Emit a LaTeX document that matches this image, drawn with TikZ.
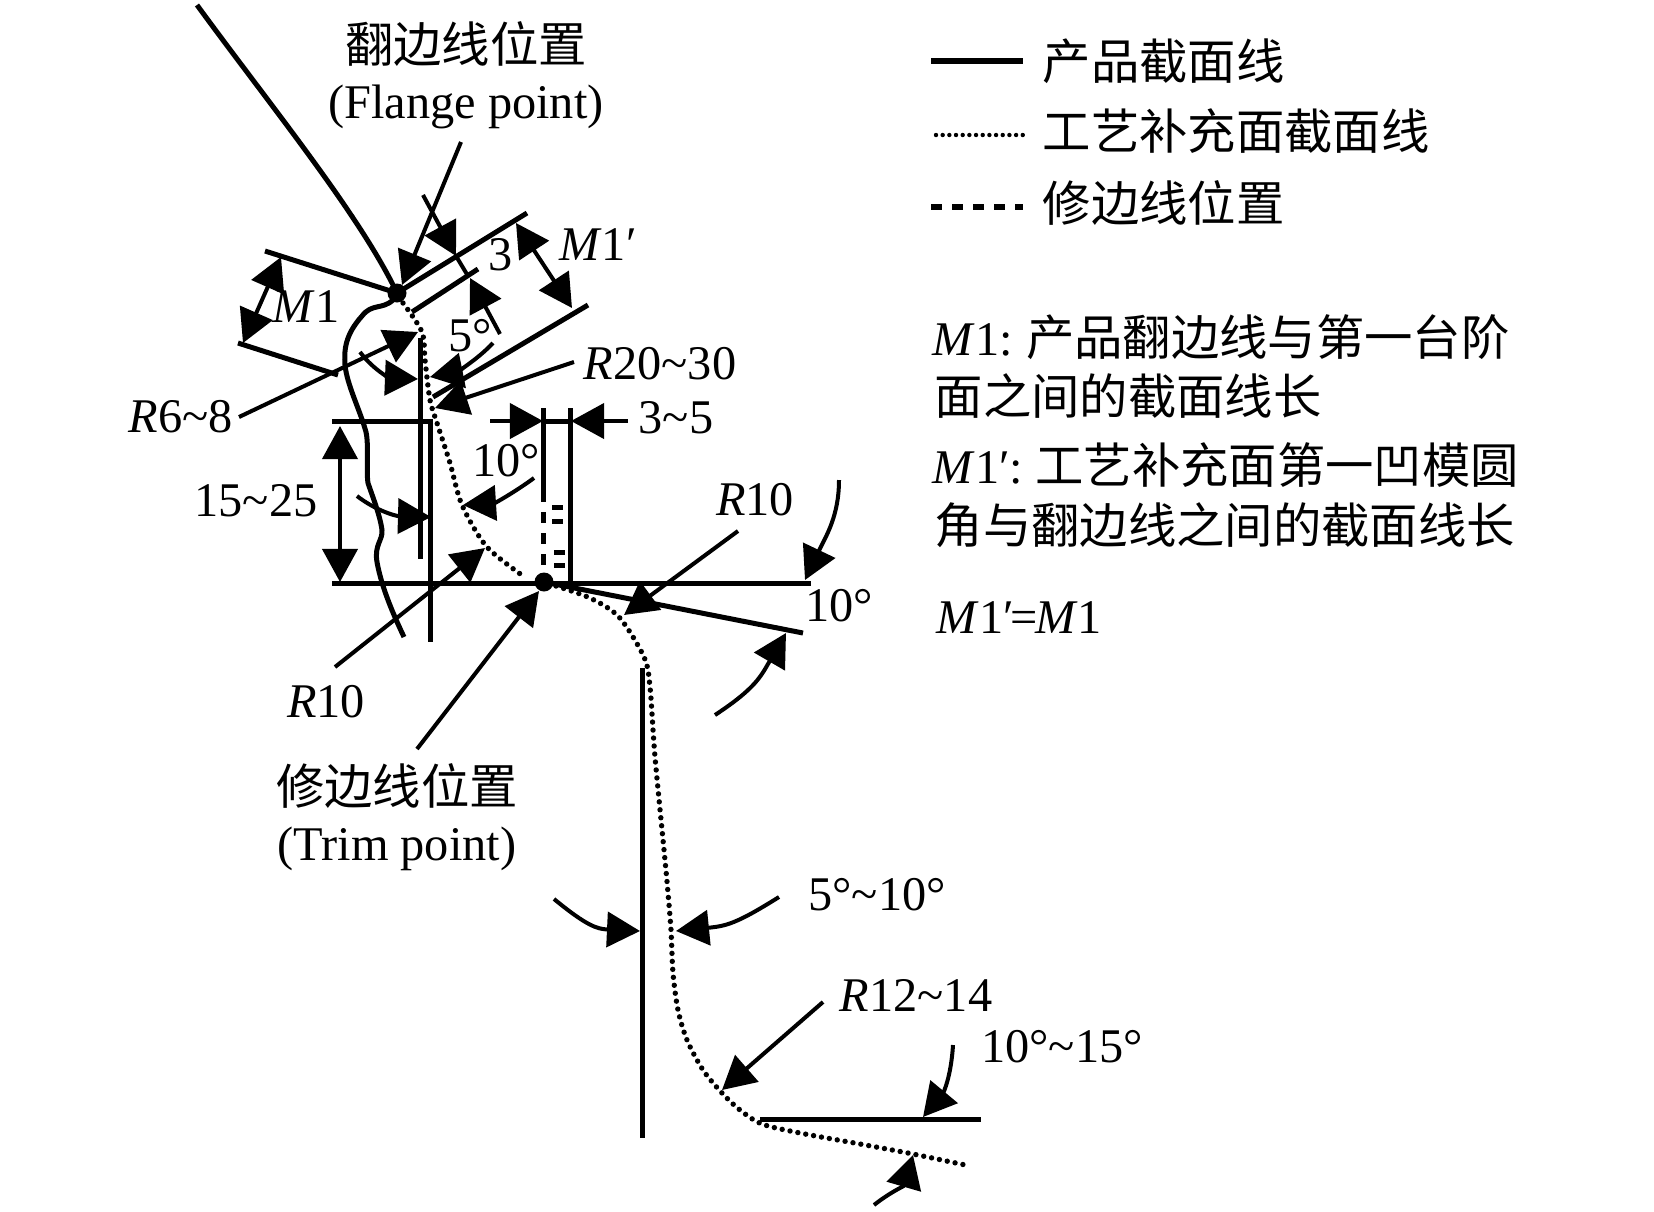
\documentclass[tikz,border=0pt]{standalone}
\usepackage{fontspec}
\setmainfont{Liberation Serif}
\newfontfamily\cjk{Noto Sans CJK SC}
\usetikzlibrary{arrows.meta}
\newcommand{\til}{\textasciitilde}
\newcommand{\itM}{\textit{M}}
\newcommand{\itR}{\textit{R}}
\tikzset{
  solidline/.style={line width=0.05cm},
  thinline/.style={line width=0.04cm},
  dottedline/.style={line width=0.054cm,line cap=round,dash pattern=on 0pt off 0.08cm},
  arrowline/.style={line width=0.04cm,-{Triangle[length=0.33cm,width=0.35cm]}},
  twoarrowline/.style={line width=0.04cm,{Triangle[length=0.33cm,width=0.35cm]}-{Triangle[length=0.33cm,width=0.35cm]}},
  lbl/.style={inner sep=0pt,font=\fontsize{13.75pt}{16pt}\selectfont},
  lblleft/.style={lbl,anchor=west}
}
\begin{document}
\begin{tikzpicture}[x=0.01cm,y=-0.01cm]
\useasboundingbox (0,0) rectangle (1654,1211);
\coordinate (flange) at (397,293);
\coordinate (trim) at (544,582);

% Drawing product section line
\draw [solidline] (197,5) .. controls (270,105) and (360,215) .. (flange);
\draw [solidline] (flange) -- (393,300) .. controls (382,310) and (372,303) .. (362,316) .. controls (345,335) and (344,350) .. (345,365) .. controls (347,385) and (360,410) .. (366,432) .. controls (369,445) and (366,470) .. (368,483) .. controls (372,495) and (380,515) .. (382,530) .. controls (383,540) and (374,545) .. (377,562) .. controls (382,590) and (396,620) .. (404,637);

% Drawing addendum section line
\draw [dottedline] plot [smooth] coordinates {(403,303) (422,332) (425,360) (430,400) (437,423) (450,463) (462,505) (487,547) (526,578)};
\draw [dottedline] plot [smooth] coordinates {(556,586) (590,598) (619,617) (644,657) (650,687) (655,757) (665,860) (668,893) (671,930) (673,973) (678,1010) (687,1040) (703,1070) (722,1093) (740,1110) (762,1124) (800,1133) (860,1144) (913,1154) (970,1166)};
\fill (flange) circle (9.5);
\fill (trim) circle (9.5);

% Drawing flange leader
\draw [arrowline] (461,142) -- (402,285);

% Drawing M1 extension lines
\draw [solidline] (265,251) -- (flange);
\draw [solidline] (238,343) -- (338,375);
\draw [twoarrowline] (281,257) -- (243,343);

% Drawing M1' extension lines
\draw [solidline] (flange) -- (527,213);
\draw [solidline] (412,312) -- (478,269);
\draw [solidline] (433,397) -- (588,305);
\draw [twoarrowline] (516,223) -- (572,308);

% Drawing dimension 3
\draw [arrowline] (423,195) -- (456,256);
\draw [thinline] (456,256) -- (468,276);
\draw [arrowline] (500,334) -- (470,278);

% Drawing dimension 5 degrees
\draw [arrowline] (360,352) .. controls (375,372) and (392,378) .. (418,379);
\draw [arrowline] (493,343) .. controls (475,362) and (455,372) .. (430,377);

% Drawing leaders R6-8 and R20-30
\draw [arrowline] (239,417) -- (418,332);
\draw [arrowline] (574,362) -- (435,408);

% Drawing vertical lines at the step
\draw [solidline] (420,338) -- (420,559);
\draw [solidline] (332,421) -- (430,421) -- (430,642);
\draw [solidline] (332,583) -- (811,583);
\draw [twoarrowline] (340,426) -- (340,582);
\draw [arrowline] (357,496) .. controls (375,510) and (395,516) .. (431,517);

% Drawing dimension 3~5
\draw [solidline] (543,408) -- (543,502);
\draw [solidline] (570,408) -- (570,583);
\draw [solidline] (543,421) -- (570,421);
\draw [solidline] (543,512) -- (543,523);
\draw [solidline] (543,533) -- (543,544);
\draw [solidline] (543,554) -- (543,565);
\draw [solidline] (552,507) -- (563,507);
\draw [solidline] (552,521) -- (563,521);
\draw [solidline] (554,552) -- (565,552);
\draw [solidline] (554,565) -- (565,565);
\draw [arrowline] (490,421) -- (543,421);
\draw [arrowline] (628,421) -- (571,421);

% Drawing dimension 10 degrees and R10
\draw [arrowline] (534,478) .. controls (515,492) and (495,503) .. (463,505);
\draw [arrowline] (335,667) -- (485,548);
\draw [arrowline] (417,749) -- (539,591);

% Drawing run out at trim point
\draw [solidline] (trim) -- (803,633);
\draw [arrowline] (738,531) -- (624,615);
\draw [arrowline] (839,480) .. controls (839,516) and (826,536) .. (805,580);
\draw [arrowline] (715,715) .. controls (756,688) and (761,676) .. (786,633);

% Drawing wall line and its draft
\draw [solidline] (642,668) -- (642,1138);
\draw [arrowline] (554,899) .. controls (587,926) and (597,929) .. (640,931);
\draw [arrowline] (779,897) .. controls (736,924) and (726,926) .. (676,931);

% Drawing lower part
\draw [arrowline] (823,1002) -- (722,1090);
\draw [solidline] (760,1119) -- (981,1119);
\draw [arrowline] (953,1045) .. controls (951,1078) and (943,1093) .. (923,1117);
\draw [arrowline] (874,1205) .. controls (889,1193) and (904,1186) .. (913,1155);

% Marking labels
\node [lbl] (flangecn) at (466,44) {\cjk 翻边线位置};
\node [lbl] (flangeen) at (466,107) {(Flange point)};
\node [lbl] (trimcn) at (397,786) {\cjk 修边线位置};
\node [lbl] (trimen) at (397,849) {(Trim point)};
\node [lbl] (labm) at (306,307) {\itM1};
\node [lbl] (labmp) at (598,245) {\itM1′};
\node [lbl] (labthree) at (501,255) {3};
\node [lbl] (labfive) at (470,336) {5°};
\node [lbl] (labrtwenty) at (660,364) {\itR20\til30};
\node [lbl] (labrsix) at (181,417) {\itR6\til8};
\node [lbl] (labdepth) at (256,501) {15\til25};
\node [lbl] (labgap) at (676,418) {3\til5};
\node [lbl] (labten) at (506,461) {10°};
\node [lbl] (labrten) at (755,500) {\itR10};
\node [lbl] (labtenb) at (839,606) {10°};
\node [lbl] (labrtenb) at (326,702) {\itR10};
\node [lbl] (labdraft) at (877,895) {5°\til10°};
\node [lbl] (labrtwelve) at (916,995) {\itR12\til14};
\node [lbl] (labtenc) at (1062,1047) {10°\til15°};

% Drawing legend
\draw [line width=0.055cm] (931,61) -- (1023,61);
\draw [line width=0.044cm,line cap=round,dash pattern=on 0pt off 0.0667cm] (936,135) -- (1023,135);
\draw [line width=0.055cm,dash pattern=on 0.11cm off 0.10cm] (931,207) -- (1023,207);
\node [lblleft] (legone) at (1042,61) {\cjk 产品截面线};
\node [lblleft] (legtwo) at (1042,131) {\cjk 工艺补充面截面线};
\node [lblleft] (legthree) at (1042,203) {\cjk 修边线位置};

% Marking notes
\node [lblleft] (noteone) at (932,337) {\itM1:\kern0.012cm\ {\cjk 产品翻边线与第一台阶}};
\node [lblleft] (noteonb) at (934,396) {\cjk 面之间的截面线长};
\node [lblleft] (notetwo) at (932,465) {\itM1′:\ {\cjk 工艺补充面第一凹模圆}};
\node [lblleft] (notetwb) at (934,525) {\cjk 角与翻边线之间的截面线长};
\node [lblleft] (notethree) at (936,618) {\itM1′\kern-0.03cm=\kern-0.03cm\itM1};
\end{tikzpicture}
\end{document}
